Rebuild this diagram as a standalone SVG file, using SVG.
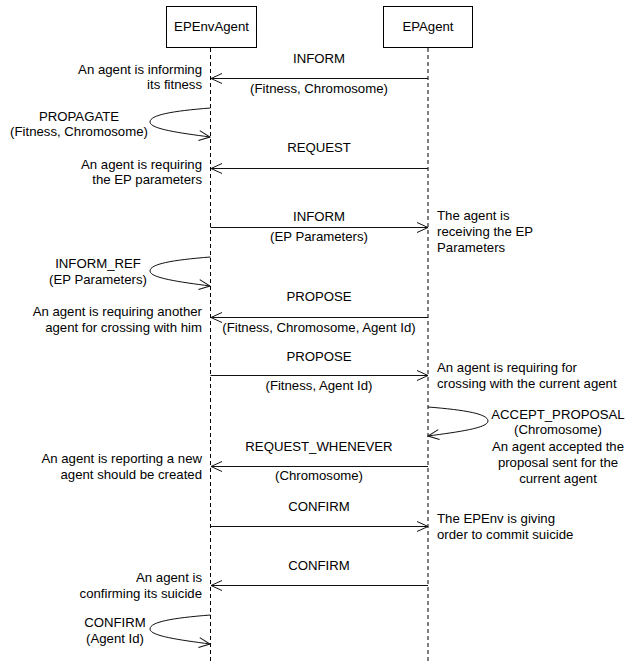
<svg xmlns="http://www.w3.org/2000/svg" width="625" height="662" viewBox="0 0 625 662">
<defs>
<style>
text{font-family:"Liberation Sans",Arial,sans-serif;font-size:13.2px;fill:#000}
.box{fill:#fff;stroke:#000;stroke-width:1}
.life{stroke:#000;stroke-width:1;stroke-dasharray:4,3;fill:none}
.msg{stroke:#111;stroke-width:1;fill:none}
.m{text-anchor:middle}
.r{text-anchor:end}
</style>
<marker id="arr" markerWidth="14" markerHeight="12" refX="12" refY="6" orient="auto" markerUnits="userSpaceOnUse">
<path d="M1,1 L12,6 L1,11" fill="none" stroke="#111" stroke-width="1"/>
</marker>
</defs>
<rect width="625" height="662" fill="#fff"/>
<g id="EPEnvAgent">
<rect class="box" x="166.5" y="6.5" width="90" height="41"/>
<text class="m" x="211.5" y="31">EPEnvAgent</text>
<line class="life" x1="210.5" y1="48" x2="210.5" y2="662"/>
</g>
<g id="EPAgent">
<rect class="box" x="383.5" y="6.5" width="89" height="41"/>
<text class="m" x="428" y="31">EPAgent</text>
<line class="life" x1="428" y1="48" x2="428" y2="662" stroke="#555"/>
</g>
<g id="connectors">
<line class="msg" x1="428" y1="78.5" x2="211" y2="78.5" marker-end="url(#arr)"/>
<path class="msg" d="M210.5,108 C172,111 150,115 150,122 C150,129 180,133 210,137" marker-end="url(#arr)"/>
<line class="msg" x1="428" y1="168.5" x2="211" y2="168.5" marker-end="url(#arr)"/>
<line class="msg" x1="210.5" y1="227.5" x2="428" y2="227.5" marker-end="url(#arr)"/>
<path class="msg" d="M210.5,257 C172,260 150,264 150,271 C150,278 180,282 210,286" marker-end="url(#arr)"/>
<line class="msg" x1="428" y1="317.5" x2="211" y2="317.5" marker-end="url(#arr)"/>
<line class="msg" x1="210.5" y1="375.5" x2="428" y2="375.5" marker-end="url(#arr)"/>
<path class="msg" d="M428,407 C466,410 488,414 488,421 C488,428 458,432 428,436" marker-end="url(#arr)"/>
<line class="msg" x1="428" y1="466.5" x2="211" y2="466.5" marker-end="url(#arr)"/>
<line class="msg" x1="210.5" y1="526.5" x2="428" y2="526.5" marker-end="url(#arr)"/>
<line class="msg" x1="428" y1="585.5" x2="211" y2="585.5" marker-end="url(#arr)"/>
<path class="msg" d="M210.5,615 C172,618 150,622 150,629 C150,636 180,640 210,644" marker-end="url(#arr)"/>
</g>
<g id="labels">
<text class="m" x="319" y="63">INFORM</text>
<text class="m" x="319" y="93">(Fitness, Chromosome)</text>
<text class="r" x="202" y="74">An agent is informing</text>
<text class="r" x="202" y="89">its fitness</text>

<text class="m" x="79" y="121">PROPAGATE</text>
<text class="m" x="79" y="136">(Fitness, Chromosome)</text>

<text class="m" x="319" y="152">REQUEST</text>
<text class="r" x="202" y="169">An agent is requiring</text>
<text class="r" x="202" y="184">the EP parameters</text>

<text class="m" x="319" y="221">INFORM</text>
<text class="m" x="319" y="241">(EP Parameters)</text>
<text x="437" y="220">The agent is</text>
<text x="437" y="236">receiving the EP</text>
<text x="437" y="252">Parameters</text>

<text class="m" x="98" y="268">INFORM_REF</text>
<text class="m" x="98" y="284">(EP Parameters)</text>

<text class="m" x="319" y="301">PROPOSE</text>
<text class="m" x="319" y="332">(Fitness, Chromosome, Agent Id)</text>
<text class="r" x="202" y="316">An agent is requiring another</text>
<text class="r" x="202" y="332">agent for crossing with him</text>

<text class="m" x="319" y="361">PROPOSE</text>
<text class="m" x="319" y="390">(Fitness, Agent Id)</text>
<text x="437" y="372">An agent is requiring for</text>
<text x="437" y="388">crossing with the current agent</text>

<text class="m" x="558" y="419">ACCEPT_PROPOSAL</text>
<text class="m" x="558" y="434">(Chromosome)</text>
<text class="m" x="558" y="451">An agent accepted the</text>
<text class="m" x="558" y="467">proposal sent for the</text>
<text class="m" x="558" y="483">current agent</text>

<text class="m" x="319" y="451">REQUEST_WHENEVER</text>
<text class="m" x="319" y="480">(Chromosome)</text>
<text class="r" x="202" y="463">An agent is reporting a new</text>
<text class="r" x="202" y="479">agent should be created</text>

<text class="m" x="319" y="511">CONFIRM</text>
<text x="437" y="523">The EPEnv is giving</text>
<text x="437" y="539">order to commit suicide</text>

<text class="m" x="319" y="570">CONFIRM</text>
<text class="r" x="202" y="582">An agent is</text>
<text class="r" x="202" y="598">confirming its suicide</text>

<text class="m" x="115" y="627">CONFIRM</text>
<text class="m" x="115" y="643">(Agent Id)</text>
</g>
</svg>
